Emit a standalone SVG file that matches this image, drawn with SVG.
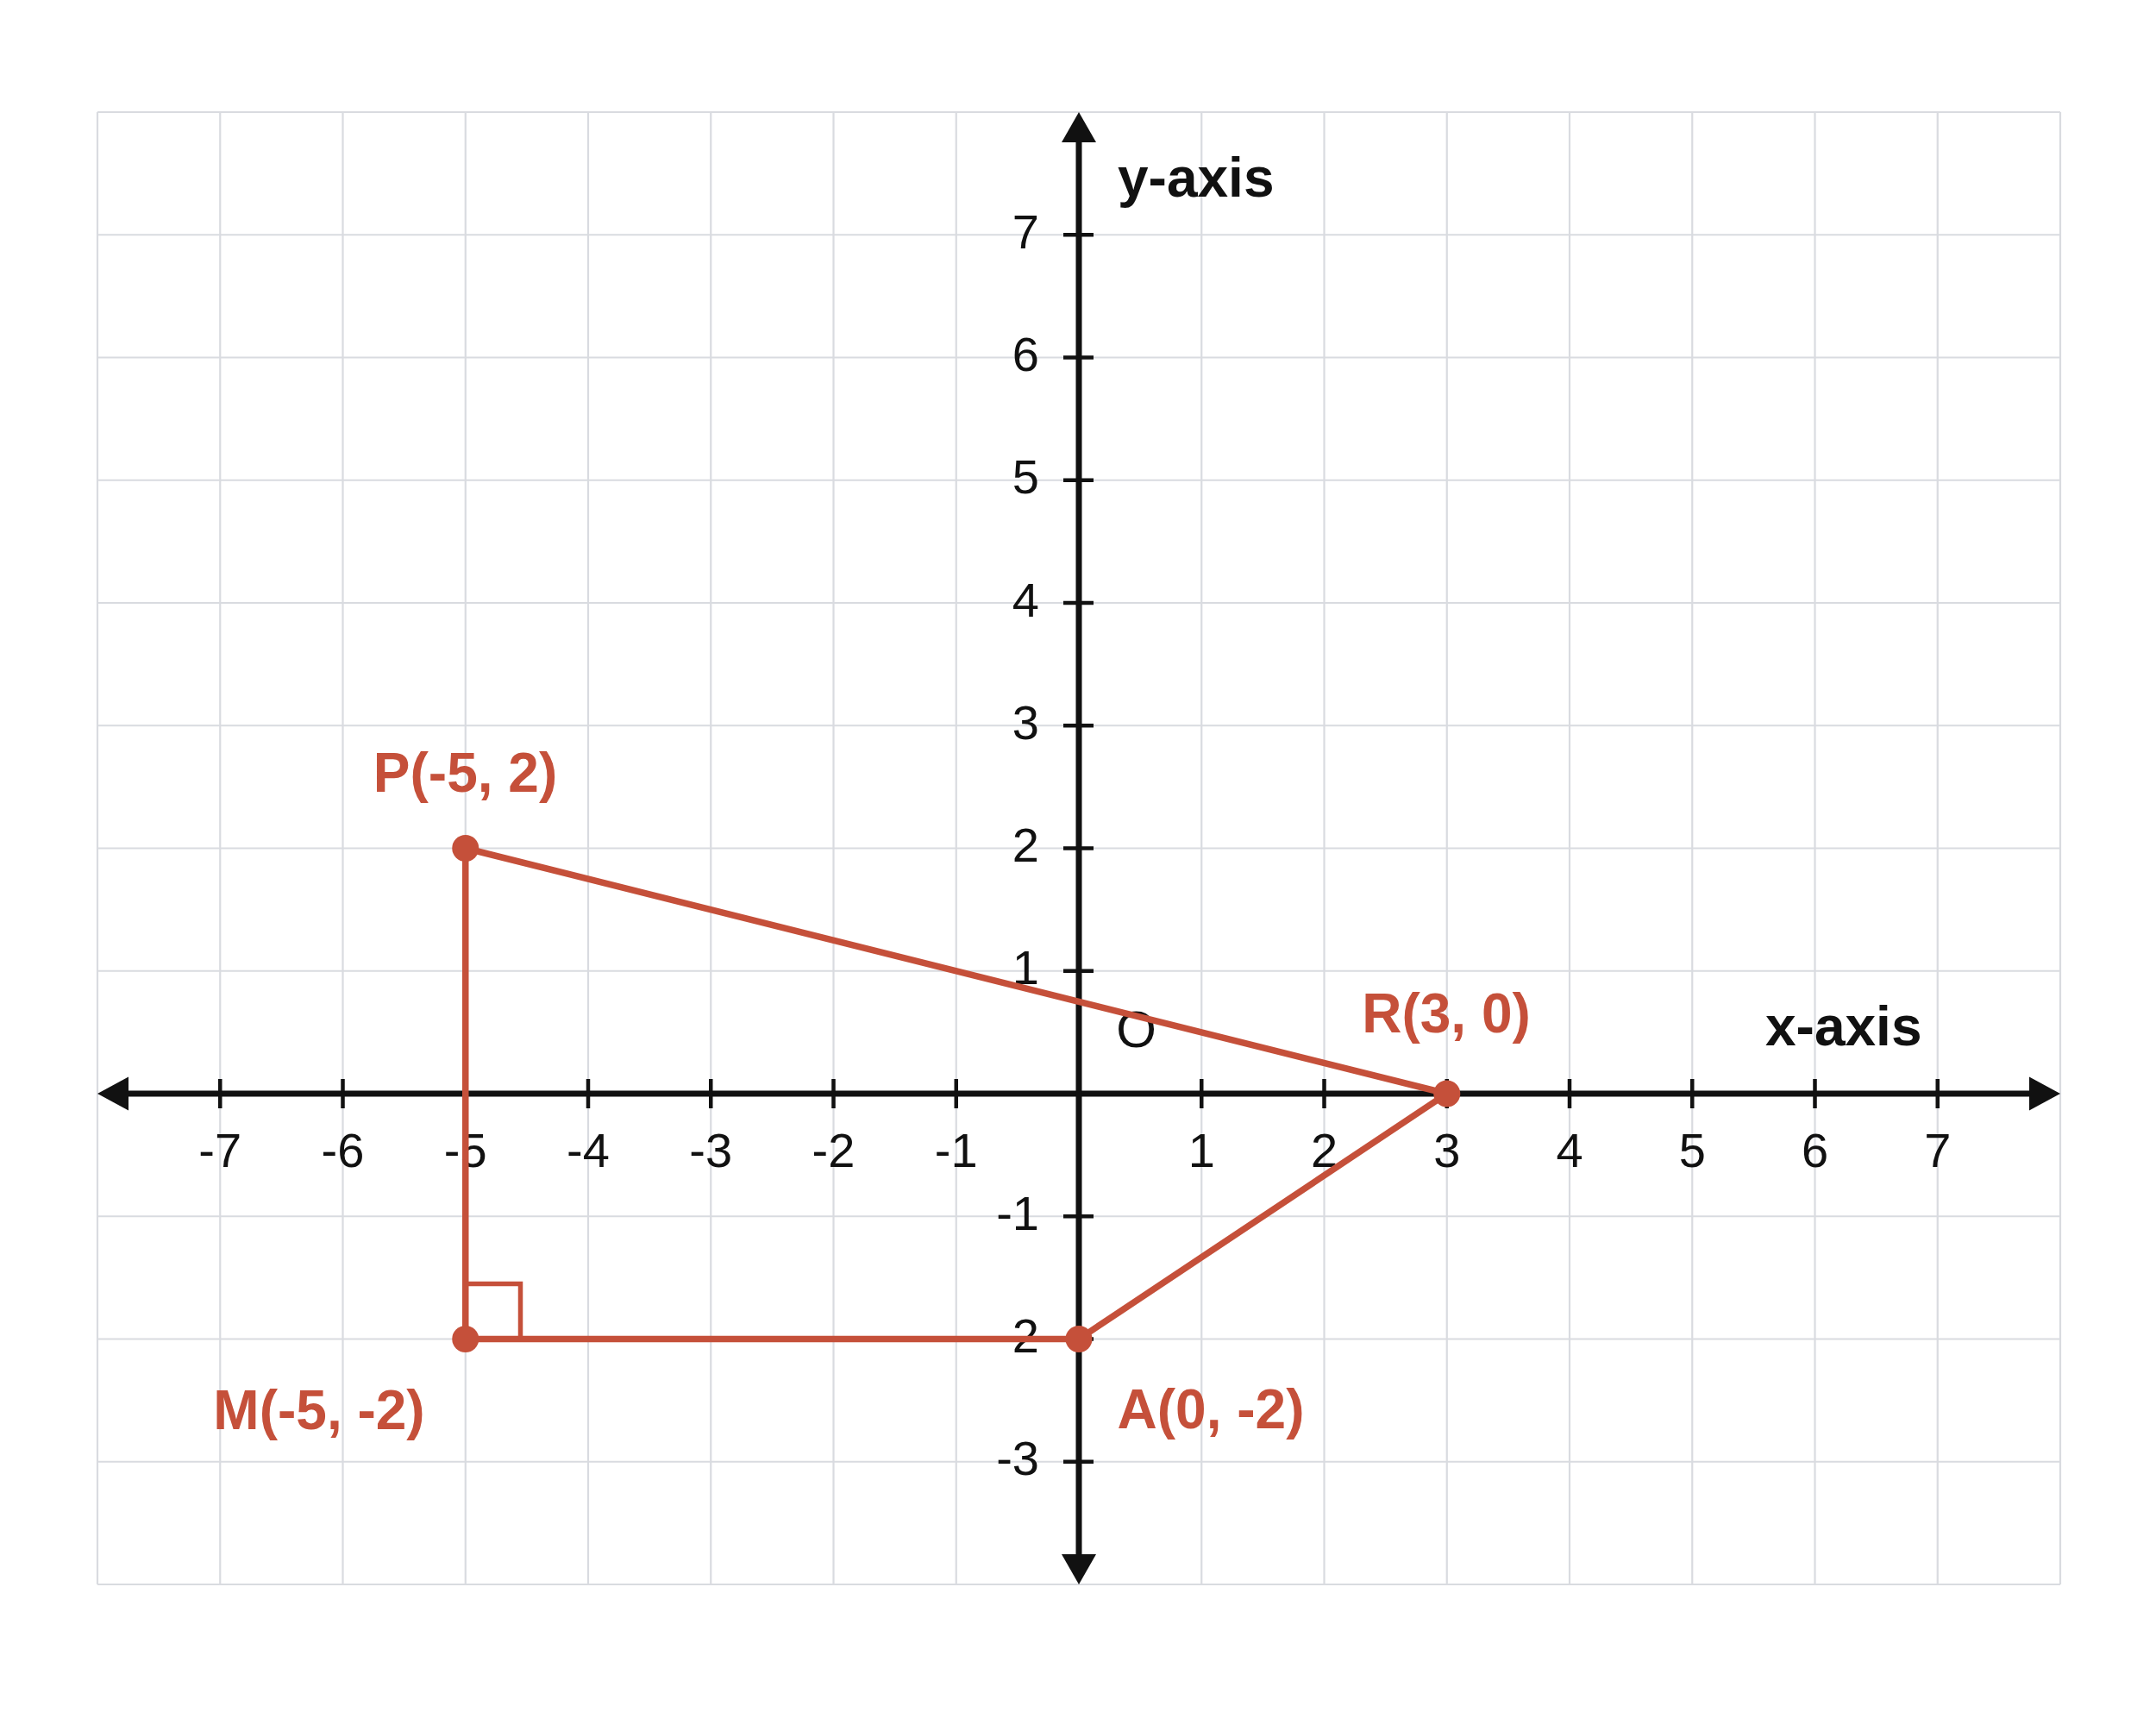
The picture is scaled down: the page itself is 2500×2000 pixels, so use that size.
<svg xmlns="http://www.w3.org/2000/svg" width="2500" height="2000" viewBox="0 0 2500 2000">
<style>
.grid{stroke:#d9dbe0;stroke-width:2.2;fill:none}
.axis{stroke:#111;stroke-width:7;fill:none}
.tick{stroke:#111;stroke-width:4.5;fill:none}
.arrow{fill:#111}
.tl{font-family:"Liberation Sans",Arial,sans-serif;font-size:56px;fill:#111}
.ax{font-family:"Liberation Sans",Arial,sans-serif;font-size:64px;font-weight:bold;fill:#111}
.pl{font-family:"Liberation Sans",Arial,sans-serif;font-size:64px;font-weight:bold;fill:#c5503a;text-anchor:middle}
.edge{stroke:#c5503a;stroke-width:7.5;fill:none;stroke-linejoin:round}
.ra{stroke:#c5503a;stroke-width:5.5;fill:none}
.pt{fill:#c5503a}
</style>
<rect width="2500" height="2000" fill="#fff"/>
<g id="grid">
<path class="grid" d="M113 130V1837M255.25 130V1837M397.5 130V1837M539.75 130V1837M682 130V1837M824.25 130V1837M966.5 130V1837M1108.75 130V1837M1251 130V1837M1393.25 130V1837M1535.5 130V1837M1677.75 130V1837M1820 130V1837M1962.25 130V1837M2104.5 130V1837M2246.75 130V1837M2389 130V1837"/>
<path class="grid" d="M113 130H2389M113 272.25H2389M113 414.5H2389M113 556.75H2389M113 699H2389M113 841.25H2389M113 983.5H2389M113 1125.75H2389M113 1268H2389M113 1410.25H2389M113 1552.5H2389M113 1694.75H2389M113 1837H2389"/>
</g>
<g id="axes">
<line class="axis" x1="146" y1="1268" x2="2356" y2="1268"/>
<line class="axis" x1="1251" y1="163" x2="1251" y2="1804"/>
<polygon class="arrow" points="2389,1268 2353,1248.5 2353,1287.5"/>
<polygon class="arrow" points="113,1268 149,1248.5 149,1287.5"/>
<polygon class="arrow" points="1251,130 1231,165 1271,165"/>
<polygon class="arrow" points="1251,1837 1231,1802 1271,1802"/>
<path class="tick" d="M255.25 1251V1285M397.5 1251V1285M539.75 1251V1285M682 1251V1285M824.25 1251V1285M966.5 1251V1285M1108.75 1251V1285M1393.25 1251V1285M1535.5 1251V1285M1677.75 1251V1285M1820 1251V1285M1962.25 1251V1285M2104.5 1251V1285M2246.75 1251V1285"/>
<path class="tick" d="M1233 272.25H1268M1233 414.5H1268M1233 556.75H1268M1233 699H1268M1233 841.25H1268M1233 983.5H1268M1233 1125.75H1268M1233 1410.25H1268M1233 1552.5H1268M1233 1694.75H1268"/>
<g class="tl" text-anchor="middle">
<text x="255.25" y="1353">-7</text>
<text x="397.5" y="1353">-6</text>
<text x="539.75" y="1353">-5</text>
<text x="682" y="1353">-4</text>
<text x="824.25" y="1353">-3</text>
<text x="966.5" y="1353">-2</text>
<text x="1108.75" y="1353">-1</text>
<text x="1393.25" y="1353">1</text>
<text x="1535.5" y="1353">2</text>
<text x="1677.75" y="1353">3</text>
<text x="1820" y="1353">4</text>
<text x="1962.25" y="1353">5</text>
<text x="2104.5" y="1353">6</text>
<text x="2246.75" y="1353">7</text>
</g>
<g class="tl" text-anchor="end">
<text x="1205" y="288">7</text>
<text x="1205" y="430">6</text>
<text x="1205" y="572">5</text>
<text x="1205" y="714.5">4</text>
<text x="1205" y="857">3</text>
<text x="1205" y="999">2</text>
<text x="1205" y="1141">1</text>
<text x="1205" y="1425.5">-1</text>
<text x="1205" y="1568">-2</text>
<text x="1205" y="1710">-3</text>
</g>
<text class="tl" x="1317.5" y="1214" text-anchor="middle" style="font-size:60px">O</text>
<text class="ax" x="1296" y="228">y-axis</text>
<text class="ax" x="2047" y="1212">x-axis</text>
</g>
<g id="connectors">
<polyline class="edge" points="539.75,983.5 1677.75,1268 1251,1552.5 539.75,1552.5 539.75,983.5"/>
<polyline class="ra" points="539.75,1488.5 603.5,1488.5 603.5,1552.5"/>
</g>
<g id="P">
<circle class="pt" cx="539.75" cy="983.5" r="15.5"/>
<text class="pl" x="539.5" y="918">P(-5, 2)</text>
</g>
<g id="R">
<circle class="pt" cx="1677.75" cy="1268" r="15.5"/>
<text class="pl" x="1677" y="1197">R(3, 0)</text>
</g>
<g id="A">
<circle class="pt" cx="1251" cy="1552.5" r="15.5"/>
<text class="pl" x="1404" y="1656">A(0, -2)</text>
</g>
<g id="M">
<circle class="pt" cx="539.75" cy="1552.5" r="15.5"/>
<text class="pl" x="370" y="1657">M(-5, -2)</text>
</g>
</svg>
